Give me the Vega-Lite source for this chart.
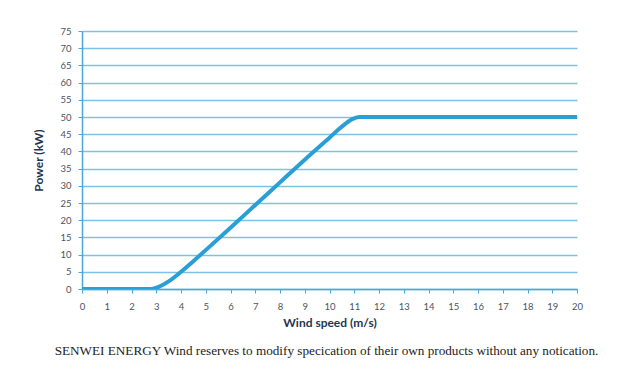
{
  "$schema": "https://vega.github.io/schema/vega-lite/v6.json",
  "width": 495,
  "height": 258,
  "autosize": "none",
  "padding": {"left": 82, "top": 31, "right": 57, "bottom": 97},
  "background": "white",
  "title": {
    "text": "SENWEI ENERGY Wind reserves to modify specication of their own products without any notication.",
    "orient": "bottom",
    "anchor": "middle",
    "font": "Liberation Serif",
    "fontSize": 13.2,
    "fontWeight": "normal",
    "color": "#222222",
    "offset": 16,
    "dx": -3
  },
  "config": {
    "view": {"stroke": null},
    "axis": {
      "labelFont": "Lato",
      "labelFontSize": 9.5,
      "labelColor": "#4a5560",
      "titleFont": "Lato",
      "titleFontSize": 12,
      "titleFontWeight": "bold",
      "titleColor": "#1f3552",
      "domainColor": "#4aa8d8",
      "domainWidth": 1.5,
      "tickColor": "#4aa8d8",
      "tickSize": 4,
      "gridColor": "#7cc3e3",
      "gridWidth": 1.6
    }
  },
  "data": {
    "values": [
      {"ws": 0, "p": 0},
      {"ws": 1, "p": 0},
      {"ws": 2, "p": 0},
      {"ws": 2.8, "p": 0},
      {"ws": 3.1, "p": 0.6},
      {"ws": 3.5, "p": 2.2},
      {"ws": 4, "p": 5},
      {"ws": 4.5, "p": 8.1},
      {"ws": 5, "p": 11.3},
      {"ws": 6, "p": 17.8},
      {"ws": 7, "p": 24.4},
      {"ws": 8, "p": 31},
      {"ws": 9, "p": 37.6},
      {"ws": 10, "p": 44},
      {"ws": 10.5, "p": 47.2},
      {"ws": 10.9, "p": 49.3},
      {"ws": 11.2, "p": 50},
      {"ws": 15, "p": 50},
      {"ws": 20, "p": 50}
    ]
  },
  "mark": {"type": "line", "color": "#2a9fd6", "strokeWidth": 4, "interpolate": "monotone", "clip": true},
  "encoding": {
    "x": {
      "field": "ws",
      "type": "quantitative",
      "scale": {"domain": [0, 20], "nice": false},
      "axis": {
        "title": "Wind speed (m/s)",
        "values": [0,1,2,3,4,5,6,7,8,9,10,11,12,13,14,15,16,17,18,19,20],
        "grid": false,
        "labelPadding": 8,
        "titlePadding": 7,
        "labelFlush": false
      }
    },
    "y": {
      "field": "p",
      "type": "quantitative",
      "scale": {"domain": [0, 75], "nice": false},
      "axis": {
        "title": "Power (kW)",
        "values": [0,5,10,15,20,25,30,35,40,45,50,55,60,65,70,75],
        "grid": true,
        "labelPadding": 7,
        "titlePadding": 14,
        "labelFlush": false
      }
    }
  }
}
